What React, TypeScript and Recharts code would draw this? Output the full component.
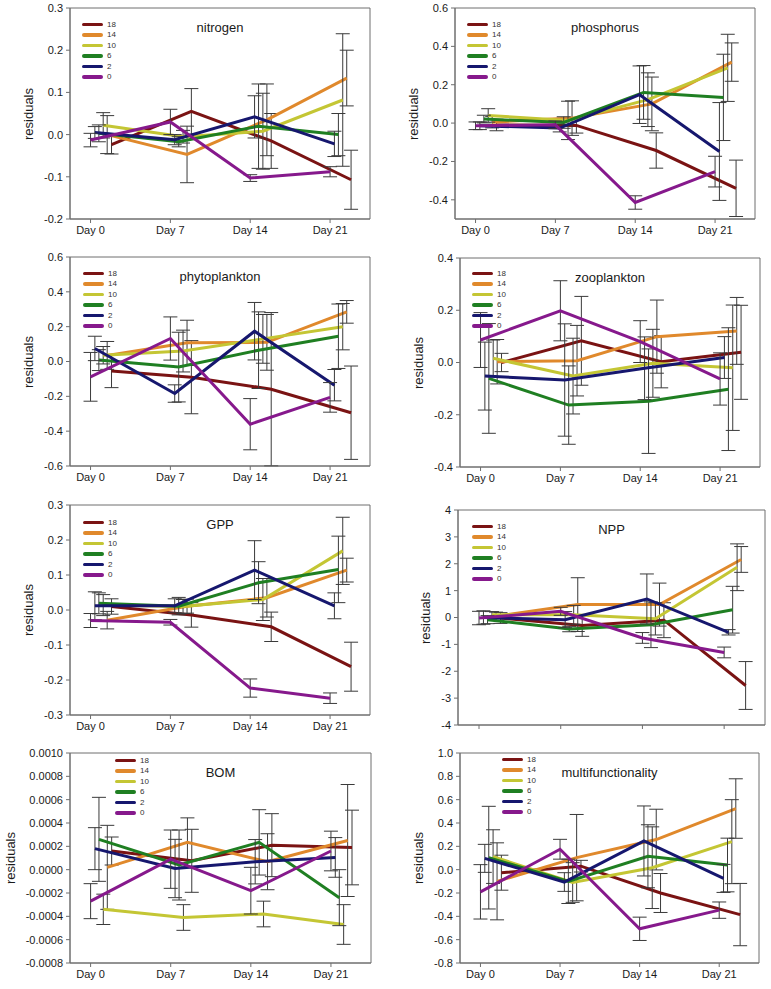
import { LineChart, Line, XAxis, YAxis, ErrorBar, ReferenceArea } from 'recharts';

const days = [0, 7, 14, 21];
const groups = ['18', '14', '10', '6', '2', '0'];
const groupColors = ['#7a1313', '#e0892c', '#c4c634', '#1f7f22', '#16176e', '#86198c'];

// rows follow groups: 18, 14, 10, 6, 2, 0 ; columns follow days
const nitrogenMeans = [
  [-0.024, 0.055, -0.015, -0.107],
  [0.0, -0.047, 0.035, 0.134],
  [0.022, -0.005, 0.008, 0.082],
  [0.003, -0.017, 0.02, 0.0],
  [0.005, -0.012, 0.042, -0.022],
  [-0.013, 0.03, -0.103, -0.088],
];
const nitrogenErrors = [
  [0.022, 0.054, 0.065, 0.07],
  [0.045, 0.067, 0.085, 0.066],
  [0.03, 0.015, 0.09, 0.157],
  [0.02, 0.012, 0.1, 0.05],
  [0.014, 0.012, 0.05, 0.03],
  [0.016, 0.03, 0.008, 0.012],
];
const nitrogenTicks = [0.3, 0.2, 0.1, 0, -0.1, -0.2];

const phosphorusMeans = [
  [-0.01, -0.012, -0.143, -0.34],
  [0.005, 0.026, 0.1, 0.318],
  [0.04, 0.014, 0.122, 0.288],
  [0.021, 0.003, 0.16, 0.134],
  [-0.014, -0.026, 0.148, -0.148],
  [-0.014, -0.009, -0.414, -0.253],
];
const phosphorusErrors = [
  [0.03, 0.04, 0.092, 0.147],
  [0.03, 0.09, 0.14, 0.1],
  [0.035, 0.1, 0.14, 0.175],
  [0.02, 0.03, 0.14, 0.225],
  [0.02, 0.02, 0.15, 0.255],
  [0.02, 0.02, 0.035, 0.08],
];
const phosphorusTicks = [0.6, 0.4, 0.2, 0, -0.2, -0.4];

const phytoMeans = [
  [-0.055, -0.09, -0.159, -0.294],
  [0.035, 0.107, 0.11, 0.285],
  [0.036, 0.06, 0.13, 0.2],
  [0.008, -0.032, 0.065, 0.145],
  [0.075, -0.184, 0.174, -0.136],
  [-0.088, 0.132, -0.36, -0.206],
];
const phytoErrors = [
  [0.095, 0.21, 0.44, 0.268],
  [0.08, 0.13, 0.16, 0.065],
  [0.05, 0.12, 0.14, 0.133],
  [0.06, 0.2, 0.22, 0.185],
  [0.07, 0.05, 0.165, 0.09],
  [0.14, 0.124, 0.147, 0.085],
];
const phytoTicks = [0.6, 0.4, 0.2, 0, -0.2, -0.4, -0.6];

const zooMeans = [
  [0.0, 0.083, 0.003, 0.039],
  [0.003, 0.007, 0.099, 0.121],
  [0.016, -0.052, -0.003, -0.02],
  [-0.061, -0.163, -0.148, -0.102],
  [-0.052, -0.067, -0.022, 0.019],
  [0.086, 0.198, 0.08, -0.063],
];
const zooErrors = [
  [0.035, 0.17, 0.1, 0.18],
  [0.085, 0.135, 0.14, 0.128],
  [0.07, 0.145, 0.13, 0.24],
  [0.21, 0.15, 0.2, 0.235],
  [0.13, 0.215, 0.12, 0.08],
  [0.105, 0.115, 0.08, 0.1],
];
const zooTicks = [0.4, 0.2, 0, -0.2, -0.4];

const gppMeans = [
  [0.01, -0.014, -0.048, -0.162],
  [-0.029, 0.011, 0.035, 0.114],
  [0.014, 0.01, 0.03, 0.169],
  [0.019, 0.011, 0.078, 0.116],
  [0.012, 0.012, 0.114, 0.012],
  [-0.03, -0.035, -0.223, -0.252],
];
const gppErrors = [
  [0.022, 0.035, 0.042, 0.07],
  [0.025, 0.02, 0.055, 0.034],
  [0.03, 0.02, 0.06, 0.096],
  [0.03, 0.025, 0.06, 0.095],
  [0.04, 0.02, 0.084, 0.037],
  [0.02, 0.008, 0.026, 0.015],
];
const gppTicks = [0.3, 0.2, 0.1, 0, -0.1, -0.2, -0.3];

const nppMeans = [
  [-0.02, -0.3, -0.1, -2.53],
  [0.05, 0.48, 0.48, 2.16],
  [0.1, 0.1, -0.05, 1.87],
  [-0.08, -0.43, -0.27, 0.29],
  [0.0, -0.08, 0.69, -0.55],
  [-0.02, 0.23, -0.76, -1.3],
];
const nppErrors = [
  [0.2, 0.4, 0.65, 0.89],
  [0.15, 1.0, 0.8, 0.48],
  [0.12, 0.35, 0.6, 0.87],
  [0.15, 0.1, 0.85, 0.87],
  [0.25, 0.3, 0.93, 0.1],
  [0.25, 0.15, 0.2, 0.2],
];
const nppTicks = [4, 3, 2, 1, 0, -1, -2, -3, -4];

const bomMeans = [
  [0.00016, 0.000076, 0.00021, 0.00019],
  [0.00002, 0.000234, 0.000068, 0.00025],
  [-0.00034, -0.00041, -0.00038, -0.00047],
  [0.00026, 0.00004, 0.000234, -0.00024],
  [0.00018, 0.00001, 0.000068, 0.000105],
  [-0.00027, 0.00009, -0.00018, 0.00016],
];
const bomErrors = [
  [0.00012, 0.00027, 0.00027, 0.00032],
  [0.00036, 0.00021, 0.00024, 0.00048],
  [0.00013, 0.00011, 0.00011, 0.00017],
  [0.00036, 0.0003, 0.00028, 0.00024],
  [0.00018, 0.00025, 0.00019, 0.00017],
  [0.00015, 0.00025, 0.0002, 0.00017],
];
const bomTicks = [0.001, 0.0008, 0.0006, 0.0004, 0.0002, 0, -0.0002, -0.0004, -0.0006, -0.0008];

const multiMeans = [
  [-0.026, 0.03, -0.2, -0.385],
  [-0.1, 0.103, 0.258, 0.524],
  [0.112, -0.11, 0.017, 0.24],
  [0.103, -0.1, 0.115, 0.04],
  [0.097, -0.106, 0.246, -0.075],
  [-0.19, 0.175, -0.507, -0.347],
];
const multiErrors = [
  [0.15, 0.05, 0.167, 0.267],
  [0.33, 0.37, 0.26, 0.255],
  [0.23, 0.17, 0.35, 0.36],
  [0.44, 0.19, 0.27, 0.23],
  [0.12, 0.08, 0.3, 0.12],
  [0.233, 0.085, 0.1, 0.07],
];
const multiTicks = [1.0, 0.8, 0.6, 0.4, 0.2, 0, -0.2, -0.4, -0.6, -0.8];

// layout
const FONT = '"Liberation Sans", Arial, sans-serif';
const FRAME = '#6e6e6e';
const Y_AXIS_W = 70;
const PAD = 8;
const X_AXIS_H = 30;
const X_DOMAIN = [-1.8, 24.5];
// horizontal dodge (in days) per group so error bars don't overlap
const DODGE = [1.84, 1.46, 1.11, 0.73, 0.38, 0];

interface PanelDef {
  title: string;
  means: number[][];
  errors: number[][];
  ticks: number[];
  domain: [number, number];
  decimals: number;
  left: number;
  top: number;
  width: number;
  height: number;
  legendX: number;
  legendY: number;
  labelGap: number;
  dayLabels: boolean;
}

const panels: PanelDef[] = [
  { title: 'nitrogen', means: nitrogenMeans, errors: nitrogenErrors, ticks: nitrogenTicks, domain: [-0.2, 0.3], decimals: 1, left: 70, top: 8, width: 300, height: 211, legendX: 12, legendY: 11, labelGap: 42, dayLabels: true },
  { title: 'phosphorus', means: phosphorusMeans, errors: phosphorusErrors, ticks: phosphorusTicks, domain: [-0.5, 0.6], decimals: 1, left: 455, top: 8, width: 300, height: 211, legendX: 12, legendY: 11, labelGap: 42, dayLabels: true },
  { title: 'phytoplankton', means: phytoMeans, errors: phytoErrors, ticks: phytoTicks, domain: [-0.6, 0.6], decimals: 1, left: 70, top: 257, width: 300, height: 209, legendX: 13, legendY: 11, labelGap: 42, dayLabels: true },
  { title: 'zooplankton', means: zooMeans, errors: zooErrors, ticks: zooTicks, domain: [-0.4, 0.4], decimals: 1, left: 460, top: 258, width: 300, height: 209, legendX: 12, legendY: 10, labelGap: 42, dayLabels: true },
  { title: 'GPP', means: gppMeans, errors: gppErrors, ticks: gppTicks, domain: [-0.3, 0.3], decimals: 1, left: 70, top: 505, width: 300, height: 210, legendX: 13, legendY: 12, labelGap: 42, dayLabels: true },
  { title: 'NPP', means: nppMeans, errors: nppErrors, ticks: nppTicks, domain: [-4, 4], decimals: 0, left: 458, top: 510, width: 307, height: 215, legendX: 14, legendY: 11, labelGap: 33, dayLabels: false },
  { title: 'BOM', means: bomMeans, errors: bomErrors, ticks: bomTicks, domain: [-0.0008, 0.001], decimals: 4, left: 70, top: 753, width: 301, height: 210, legendX: 45, legendY: 2, labelGap: 60, dayLabels: true },
  { title: 'multifunctionality', means: multiMeans, errors: multiErrors, ticks: multiTicks, domain: [-0.8, 1.0], decimals: 1, left: 460, top: 753, width: 299, height: 210, legendX: 42, legendY: 1, labelGap: 42, dayLabels: true },
];

function seriesData(p: PanelDef, s: number) {
  return days.map((d, i) => ({ x: d + DODGE[s], y: p.means[s][i], err: p.errors[s][i] }));
}

function GroupLegend({ x, y }: { x: number; y: number }) {
  return (
    <div style={{ position: 'absolute', left: x, top: y, fontFamily: FONT, fontSize: 8, color: '#333' }}>
      {groups.map((g, s) => (
        <div key={g} style={{ display: 'flex', alignItems: 'center', height: 10.5 }}>
          <span style={{ display: 'inline-block', width: 21, height: 3.5, borderRadius: 2, background: groupColors[s], marginRight: 4 }} />
          <span>{g}</span>
        </div>
      ))}
    </div>
  );
}

function Panel({ p }: { p: PanelDef }) {
  const chartW = Y_AXIS_W + p.width + PAD;
  const chartH = PAD + p.height + X_AXIS_H;
  return (
    <div style={{ position: 'absolute', left: p.left - Y_AXIS_W, top: p.top - PAD, width: chartW, height: chartH }}>
      <LineChart width={chartW} height={chartH} margin={{ top: PAD, right: PAD, bottom: 0, left: 0 }}>
        <ReferenceArea x1={X_DOMAIN[0]} x2={X_DOMAIN[1]} y1={p.domain[0]} y2={p.domain[1]} fill="none" stroke={FRAME} strokeWidth={1} />
        <XAxis
          type="number"
          dataKey="x"
          domain={X_DOMAIN}
          ticks={days}
          interval={0}
          allowDataOverflow
          height={X_AXIS_H}
          tickSize={4}
          tickMargin={3}
          stroke={FRAME}
          tick={{ fill: '#1a1a1a', fontSize: 11, fontFamily: FONT }}
          tickFormatter={(d) => (p.dayLabels ? `Day ${d}` : '')}
        />
        <YAxis
          type="number"
          domain={p.domain}
          ticks={p.ticks}
          interval={0}
          allowDataOverflow
          width={Y_AXIS_W}
          tickSize={4}
          tickMargin={3}
          stroke={FRAME}
          tick={{ fill: '#1a1a1a', fontSize: 11, fontFamily: FONT }}
          tickFormatter={(v) => Number(v).toFixed(p.decimals)}
        />
        {groups.map((g, s) => (
          <Line
            key={g}
            data={seriesData(p, s)}
            dataKey="y"
            type="linear"
            stroke={groupColors[s]}
            strokeWidth={3}
            dot={false}
            activeDot={false}
            isAnimationActive={false}
          >
            <ErrorBar dataKey="err" direction="y" width={7} stroke="#3a3a3a" strokeWidth={1} isAnimationActive={false} />
          </Line>
        ))}
      </LineChart>
      <div
        style={{
          position: 'absolute',
          left: Y_AXIS_W - p.labelGap,
          top: PAD + p.height / 2,
          transform: 'translate(-50%, -50%) rotate(-90deg)',
          fontFamily: FONT,
          fontSize: 13,
          color: '#1a1a1a',
          whiteSpace: 'nowrap',
        }}
      >
        residuals
      </div>
      <div
        style={{
          position: 'absolute',
          left: Y_AXIS_W + p.width / 2,
          top: PAD + 19,
          transform: 'translate(-50%, -50%)',
          fontFamily: FONT,
          fontSize: 13,
          color: '#1a1a1a',
          whiteSpace: 'nowrap',
        }}
      >
        {p.title}
      </div>
      <GroupLegend x={Y_AXIS_W + p.legendX} y={PAD + p.legendY} />
    </div>
  );
}

export default function App() {
  return (
    <div style={{ position: 'absolute', left: 0, top: 0, width: 771, height: 989, background: '#fff' }}>
      {panels.map((p) => (
        <Panel key={p.title} p={p} />
      ))}
    </div>
  );
}
